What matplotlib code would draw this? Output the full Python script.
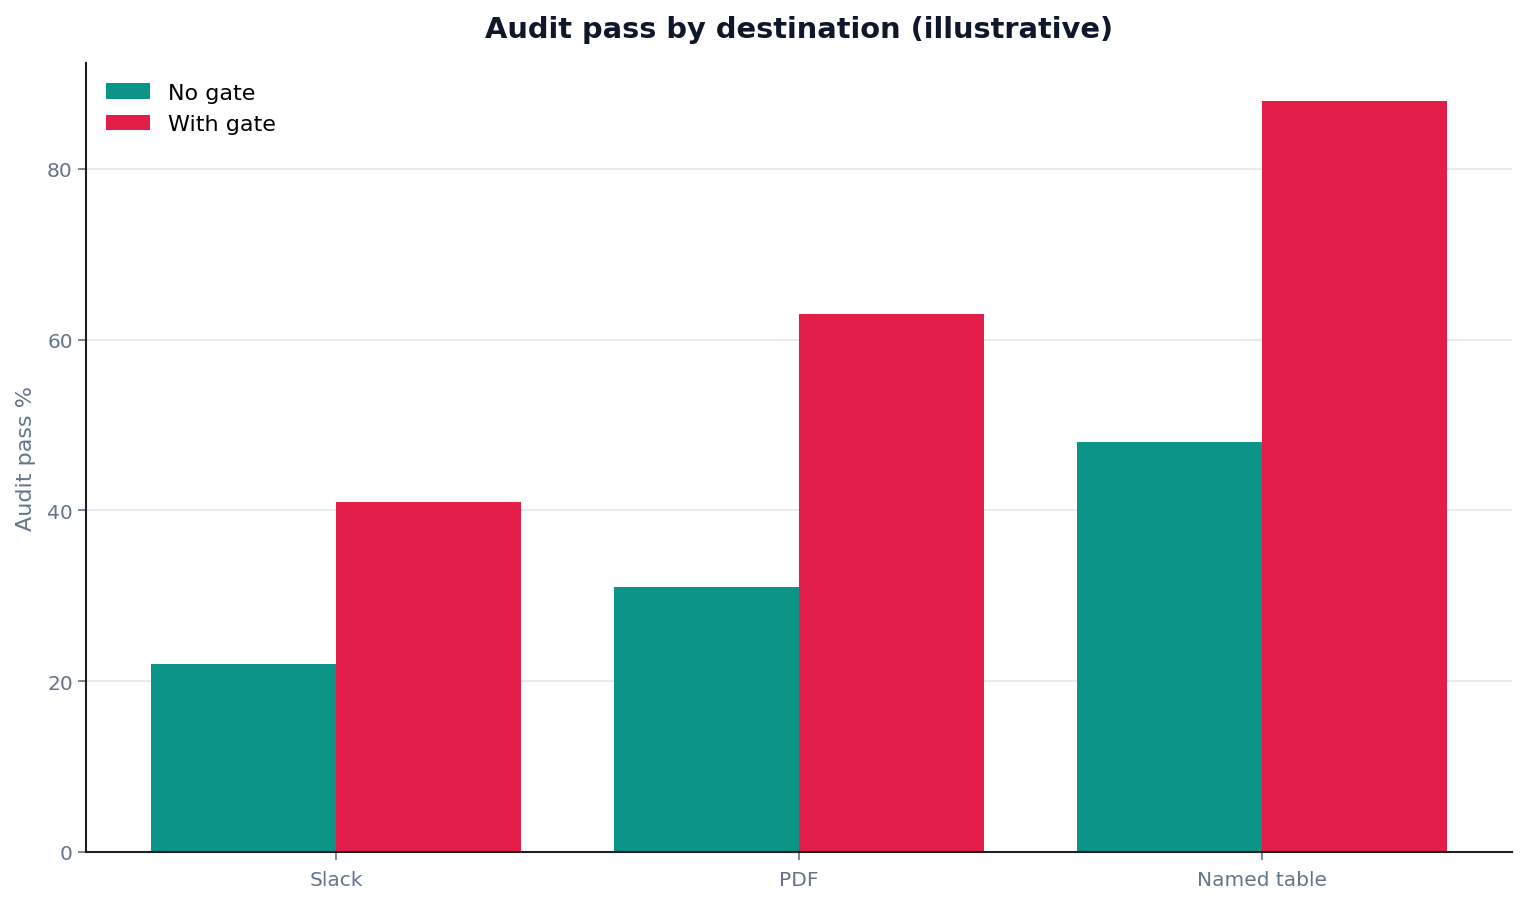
import matplotlib
matplotlib.use("Agg")
import matplotlib.pyplot as plt
import numpy as np

# Chart data
destinations = ["Slack", "PDF", "Named table"]
no_gate = [22, 31, 48]
with_gate = [41, 63, 88]

TEAL = "#0d9488"
ROSE = "#e11d48"
MUTED = "#64748b"

fig = plt.figure(figsize=(15.28, 9.03), dpi=100)
ax = fig.add_axes([0.0563, 0.0554, 0.9332, 0.8737])

x = np.arange(len(destinations))
width = 0.4
ax.bar(x - width / 2, no_gate, width, color=TEAL, label="No gate")
ax.bar(x + width / 2, with_gate, width, color=ROSE, label="With gate")

ax.set_xticks(x)
ax.set_xticklabels(destinations)
ax.set_ylabel("Audit pass %", fontsize=16, color=MUTED, labelpad=8)
ax.set_title("Audit pass by destination (illustrative)", fontsize=20.8,
             fontweight="bold", color="#0f172a", pad=19)

ax.tick_params(axis="both", labelsize=14.5, labelcolor=MUTED, color=MUTED,
               length=6, width=1.2)
ax.tick_params(axis="x", pad=7)
ax.grid(axis="y", color="#e5e7eb", linewidth=1.2)
ax.set_axisbelow(True)
for side in ("top", "right"):
    ax.spines[side].set_visible(False)
for side in ("left", "bottom"):
    ax.spines[side].set_color("#1f1f1f")
    ax.spines[side].set_linewidth(1.5)

ax.legend(frameon=False, fontsize=16, loc="upper left")

fig.savefig("out.png", dpi=100)
